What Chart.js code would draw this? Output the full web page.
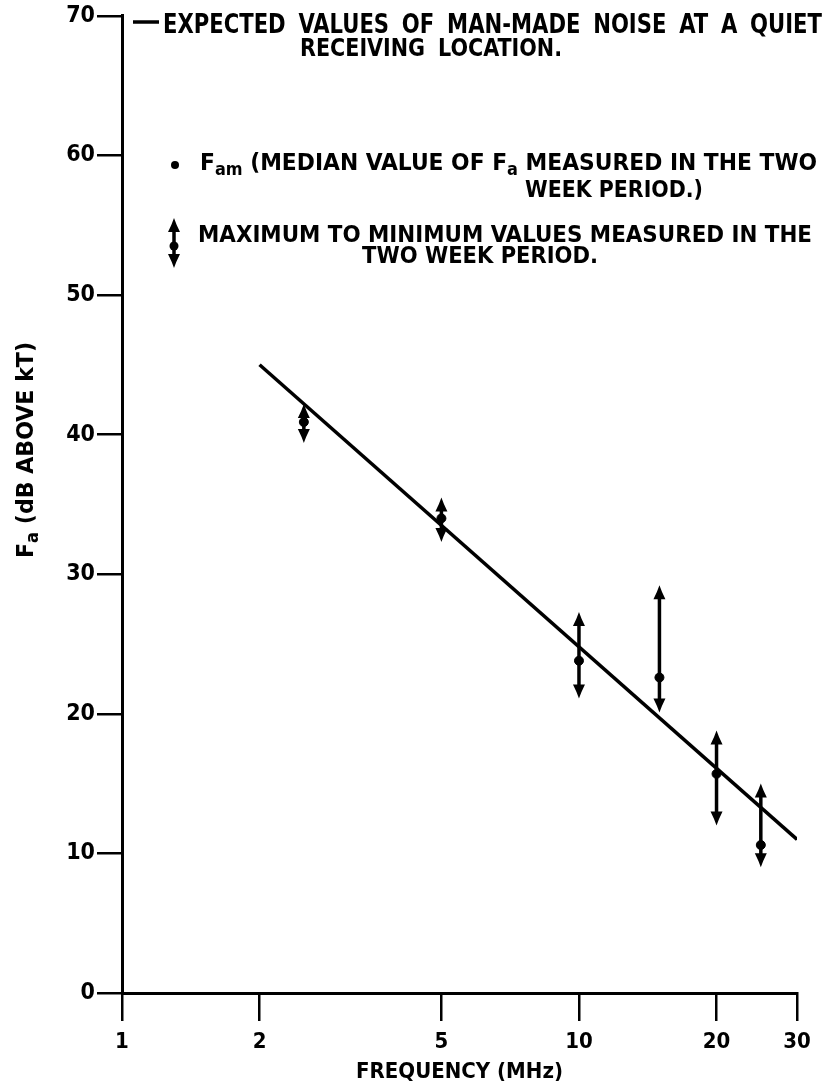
<!DOCTYPE html>
<html>
<head>
<meta charset="utf-8">
<script src="https://cdn.jsdelivr.net/npm/chart.js@4.4.1/dist/chart.umd.min.js"></script>
<style>
  html, body { margin: 0; padding: 0; background: #fff; }
  canvas { display: block; }
</style>
</head>
<body>
<canvas id="noiseChart" width="828" height="1087"></canvas>
<script>
// measured points (MHz, dB above kT)
const frequencies = [2.5, 5, 10, 15, 20, 25];
const medianFa = [40.9, 34.0, 23.8, 22.6, 15.7, 10.6];
const maxFa = [42.2, 35.5, 27.3, 29.2, 18.8, 15.0];
const minFa = [39.4, 32.3, 21.1, 20.1, 12.0, 9.0];

// expected man-made noise line
const expectedFreq = [2, 30];
const expectedFa = [45.0, 11.0];

const xTicks = [1, 2, 5, 10, 20, 30];
const yTicks = [0, 10, 20, 30, 40, 50, 60, 70];

const FONT = "'DejaVu Sans Condensed', 'DejaVu Sans', sans-serif";

// draws text parts (some subscripted) squeezed/stretched to a given width
function drawRich(ctx, parts, x, y, width, size) {
    const fontFor = p => `bold ${p.sub ? Math.round(size * 0.72) : size}px ${FONT}`;
    let natural = 0;
    parts.forEach(p => {
        ctx.font = fontFor(p);
        natural += ctx.measureText(p.t).width;
    });
    ctx.save();
    ctx.translate(x, y);
    ctx.scale(width / natural, 1);
    let cx = 0;
    parts.forEach(p => {
        ctx.font = fontFor(p);
        ctx.fillText(p.t, cx, p.sub ? size * 0.22 : 0);
        cx += ctx.measureText(p.t).width;
    });
    ctx.restore();
}

function drawRange(ctx, px, top, bot) {
    const head = 14, half = 6;
    ctx.beginPath();
    ctx.moveTo(px, top + head - 2);
    ctx.lineTo(px, bot - head + 2);
    ctx.stroke();
    ctx.beginPath();
    ctx.moveTo(px, top);
    ctx.quadraticCurveTo(px - 2, top + 6, px - half, top + head);
    ctx.lineTo(px + half, top + head);
    ctx.quadraticCurveTo(px + 2, top + 6, px, top);
    ctx.fill();
    ctx.beginPath();
    ctx.moveTo(px, bot);
    ctx.quadraticCurveTo(px - 2, bot - 6, px - half, bot - head);
    ctx.lineTo(px + half, bot - head);
    ctx.quadraticCurveTo(px + 2, bot - 6, px, bot);
    ctx.fill();
}

const errorBars = {
    id: 'errorBars',
    afterDatasetsDraw(chart) {
        const { ctx, scales: { x, y } } = chart;
        ctx.save();
        ctx.strokeStyle = '#000';
        ctx.fillStyle = '#000';
        ctx.lineWidth = 3.5;
        frequencies.forEach((f, i) => {
            drawRange(ctx, x.getPixelForValue(f), y.getPixelForValue(maxFa[i]), y.getPixelForValue(minFa[i]));
        });
        ctx.restore();
    }
};

const notes = {
    id: 'notes',
    afterDraw(chart) {
        const ctx = chart.ctx;
        ctx.save();
        ctx.fillStyle = '#000';
        ctx.strokeStyle = '#000';
        ctx.textBaseline = 'alphabetic';
        ctx.wordSpacing = '6px';

        // legend: line symbol
        ctx.lineWidth = 3.5;
        ctx.beginPath();
        ctx.moveTo(133, 22);
        ctx.lineTo(159, 22);
        ctx.stroke();
        drawRich(ctx, [{ t: 'EXPECTED VALUES OF MAN-MADE NOISE AT A QUIET' }], 163, 33, 659, 26);
        drawRich(ctx, [{ t: 'RECEIVING LOCATION.' }], 300, 56, 262, 24);

        // legend: median dot
        ctx.beginPath();
        ctx.arc(175, 165, 4, 0, Math.PI * 2);
        ctx.fill();
        drawRich(ctx, [
            { t: 'F' }, { t: 'am', sub: true },
            { t: ' (MEDIAN VALUE OF F' }, { t: 'a', sub: true },
            { t: ' MEASURED IN THE TWO' }
        ], 200, 170, 617, 23);
        drawRich(ctx, [{ t: 'WEEK PERIOD.)' }], 525, 197, 178, 23);

        // legend: range symbol
        ctx.lineWidth = 3.5;
        drawRange(ctx, 174, 218, 268);
        ctx.beginPath();
        ctx.arc(174, 246, 4.5, 0, Math.PI * 2);
        ctx.fill();
        drawRich(ctx, [{ t: 'MAXIMUM TO MINIMUM VALUES MEASURED IN THE' }], 198, 242, 614, 23);
        drawRich(ctx, [{ t: 'TWO WEEK PERIOD.' }], 362, 263, 236, 23);

        // y axis title
        ctx.wordSpacing = '4px';
        ctx.translate(33, 558);
        ctx.rotate(-Math.PI / 2);
        drawRich(ctx, [{ t: 'F' }, { t: 'a', sub: true }, { t: ' (dB ABOVE kT)' }], 0, 0, 216, 23);
        ctx.restore();
    }
};

new Chart(document.getElementById('noiseChart'), {
    type: 'scatter',
    data: {
        datasets: [{
            label: 'Expected values',
            data: expectedFreq.map((f, i) => ({ x: f, y: expectedFa[i] })),
            showLine: true,
            borderColor: '#000',
            borderWidth: 3.5,
            pointRadius: 0
        }, {
            label: 'Median',
            data: frequencies.map((f, i) => ({ x: f, y: medianFa[i] })),
            backgroundColor: '#000',
            borderColor: '#000',
            pointRadius: 4.5
        }]
    },
    options: {
        responsive: false,
        animation: false,
        layout: { padding: { top: 15, right: 31, left: 0, bottom: 0 } },
        plugins: {
            legend: { display: false },
            tooltip: { enabled: false }
        },
        scales: {
            x: {
                type: 'logarithmic',
                min: 1,
                max: 30,
                afterBuildTicks: s => { s.ticks = xTicks.map(v => ({ value: v })); },
                afterFit: s => { s.height = 94; },
                ticks: {
                    callback: v => String(v),
                    color: '#000',
                    font: { family: FONT, size: 22, weight: 'bold' },
                    padding: 8,
                    maxRotation: 0,
                    autoSkip: false
                },
                grid: { drawOnChartArea: false, drawTicks: true, tickLength: 28, color: '#000', lineWidth: 2.5 },
                border: { color: '#000', width: 3 },
                title: {
                    display: true,
                    text: 'FREQUENCY (MHz)',
                    color: '#000',
                    font: { family: FONT, size: 22, weight: 'bold' },
                    padding: { top: 0, bottom: 2 }
                }
            },
            y: {
                min: 0,
                max: 70,
                afterBuildTicks: s => { s.ticks = yTicks.map(v => ({ value: v })); },
                afterFit: s => { s.width = 122; },
                ticks: {
                    color: '#000',
                    font: { family: FONT, size: 23, weight: 'bold' },
                    padding: 2
                },
                grid: { drawOnChartArea: false, drawTicks: true, tickLength: 25, color: '#000', lineWidth: 2.5 },
                border: { color: '#000', width: 3 }
            }
        }
    },
    plugins: [errorBars, notes]
});
</script>
</body>
</html>
